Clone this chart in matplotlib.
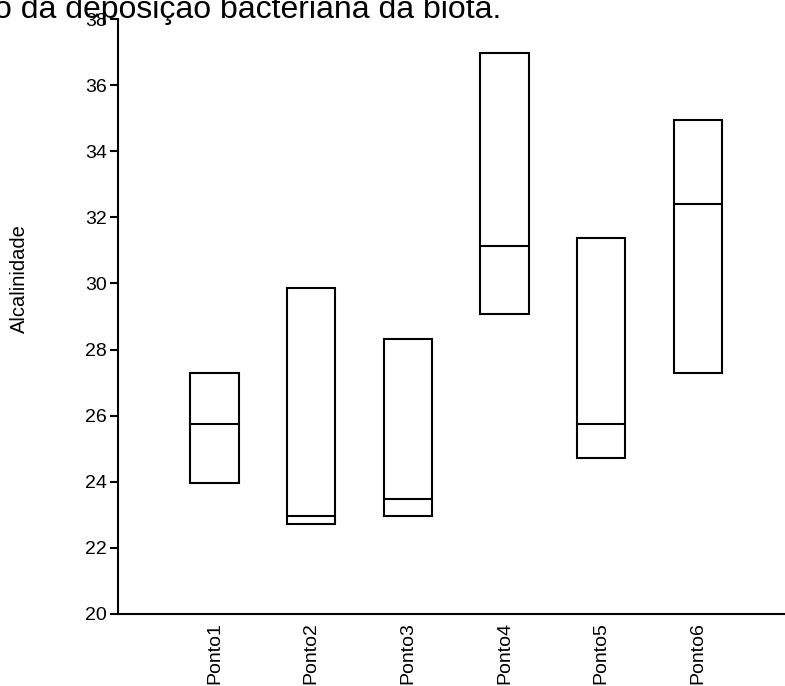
import matplotlib
matplotlib.use("Agg")
import matplotlib.pyplot as plt

plt.rcParams['font.family'] = ['Liberation Sans', 'DejaVu Sans']

# alcalinidade por ponto: minimo, mediana, maximo
pontos = ["Ponto1", "Ponto2", "Ponto3", "Ponto4", "Ponto5", "Ponto6"]
minimo = [23.95, 22.71, 22.96, 29.08, 24.72, 27.30]
mediana = [25.76, 22.96, 23.47, 31.12, 25.76, 32.40]
maximo = [27.29, 29.85, 28.31, 36.98, 31.37, 34.95]

fig = plt.figure(figsize=(7.85, 6.86), dpi=100)
ax = fig.add_axes([0.1503, 0.105, 0.8497, 0.8673])

x = list(range(1, len(pontos) + 1))
alturas = [mx - mn for mn, mx in zip(minimo, maximo)]
ax.bar(x, alturas, bottom=minimo, width=0.5, fill=False,
       edgecolor="black", linewidth=1.5)
ax.hlines(mediana, [i - 0.25 for i in x], [i + 0.25 for i in x],
          colors="black", linewidth=1.5)

ax.set_xlim(0, 6.9)
ax.set_ylim(20, 38)
ax.set_yticks(range(20, 39, 2))
ax.set_xticks(x)
ax.set_xticklabels(pontos, rotation=90, fontsize=14, va="top")
ax.tick_params(axis="y", labelsize=14, length=6, width=1.5,
               direction="out", pad=2)
ax.tick_params(axis="x", length=0, pad=6)

for s in ["top", "right"]:
    ax.spines[s].set_visible(False)
ax.spines["left"].set_linewidth(1.5)
ax.spines["bottom"].set_linewidth(1.5)

ax.set_ylabel("Alcalinidade", fontsize=14.5, va="center")
ax.yaxis.set_label_coords(-0.148, 0.563)

# titulo cortado nas bordas
fig.text(-6 / 785, 1 - 18 / 686, "o da deposição bacteriana da biota.",
         ha="left", va="baseline", fontsize=23)

fig.savefig("out.png", dpi=100)
